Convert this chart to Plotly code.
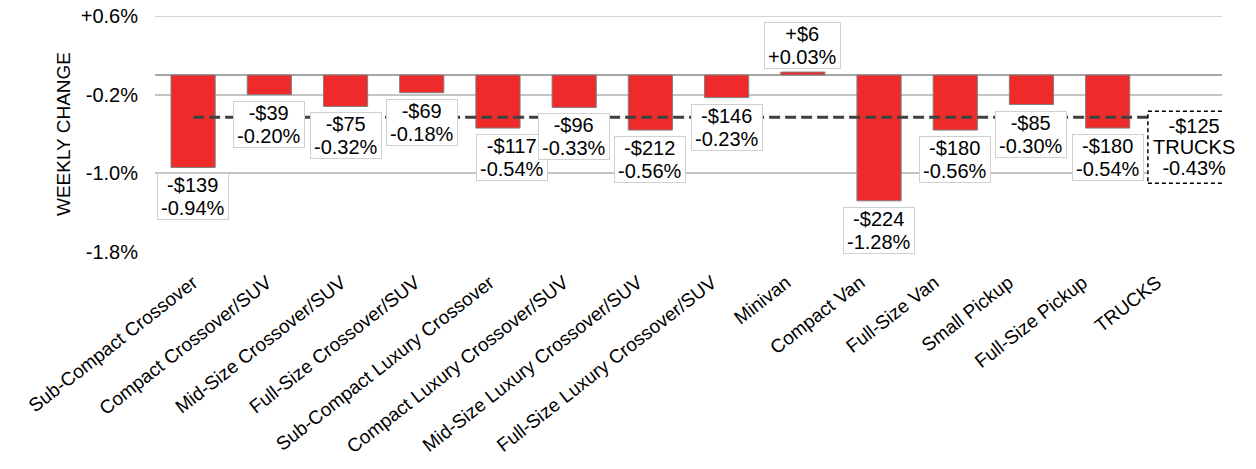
import plotly.graph_objects as go

categories = ["Sub-Compact Crossover", "Compact Crossover/SUV", "Mid-Size Crossover/SUV",
              "Full-Size Crossover/SUV", "Sub-Compact Luxury Crossover", "Compact Luxury Crossover/SUV",
              "Mid-Size Luxury Crossover/SUV", "Full-Size Luxury Crossover/SUV", "Minivan",
              "Compact Van", "Full-Size Van", "Small Pickup", "Full-Size Pickup"]
pct_change = [-0.94, -0.20, -0.32, -0.18, -0.54, -0.33, -0.56, -0.23, 0.03, -1.28, -0.56, -0.30, -0.54]
dollar_change = [-139, -39, -75, -69, -117, -96, -212, -146, 6, -224, -180, -85, -180]
total_label = "TRUCKS"
total_pct = -0.43
total_dollar = -125
y_tickvals = [-1.8, -1.0, -0.2, 0.6]
y_ticktext = ["-1.8%", "-1.0%", "-0.2%", "+0.6%"]

all_cats = categories + [total_label]
FONT = "Liberation Sans, Arial, sans-serif"


def fmt_dollar(v):
    return ("+" if v > 0 else "-") + "$" + str(abs(v))


def fmt_pct(v):
    return ("+" if v > 0 else "-") + "%.2f%%" % abs(v)


def big(s):
    return '<span style="font-size:20px">' + s + '</span>'


fig = go.Figure()
# invisible helper trace on the label axis (x), carrying the category tick labels
fig.add_trace(go.Scatter(
    x=all_cats, y=[None] * len(all_cats), xaxis="x", yaxis="y",
    mode="markers", marker=dict(opacity=0), hoverinfo="skip", showlegend=False,
))
fig.add_trace(go.Bar(
    x=categories, y=pct_change, xaxis="x2", yaxis="y",
    marker=dict(color="#EE2A2A", line=dict(color="#808080", width=1)),
    width=0.58, hoverinfo="skip", showlegend=False,
))
fig.add_trace(go.Scatter(
    x=[categories[0], total_label], y=[total_pct, total_pct], mode="lines",
    xaxis="x2", yaxis="y",
    line=dict(color="#404040", width=3, dash="11px,5px"),
    hoverinfo="skip", showlegend=False,
))

annotations = []
label_xshift = {"Sub-Compact Luxury Crossover": 14}
for cat, p, d in zip(categories, pct_change, dollar_change):
    txt = big(fmt_dollar(d)) + "<br>" + big(fmt_pct(p))
    annotations.append(dict(
        x=cat, y=p, xref="x2", yref="y", text=txt, showarrow=False,
        xanchor="center", yanchor="bottom" if p > 0 else "top",
        yshift=3 if p > 0 else -6, xshift=label_xshift.get(cat, 0),
        font=dict(family=FONT, size=17, color="#000000"),
        bgcolor="#ffffff", bordercolor="#d0d0d0", borderwidth=1, borderpad=3,
        height=39,
    ))

annotations.append(dict(
    x=total_label, y=total_pct, xref="x2", yref="y",
    text=big(fmt_dollar(total_dollar)) + "<br>" + big(total_label) + "<br>" + big(fmt_pct(total_pct)),
    showarrow=False, xanchor="center", yanchor="middle", xshift=10, yshift=-30,
    font=dict(family=FONT, size=16, color="#000000"),
))

L, R, T, B = 155, 34, 16, 217
plot_w = 1256 - L - R

# title placed as text beside the value axis
annotations.append(dict(
    x=(63 - L) / plot_w, xref="paper", y=0.5, yref="paper", text="WEEKLY CHANGE",
    textangle=-90, showarrow=False, xanchor="center", yanchor="middle",
    font=dict(family=FONT, size=19, color="#000000"),
))

fig.add_shape(
    type="line", xref="paper", yref="y", x0=0, x1=1, y0=y_tickvals[-1], y1=y_tickvals[-1],
    line=dict(color="#c4c4c4", width=1.5), layer="below",
)
fig.add_shape(
    type="rect", xref="x2", yref="y", xsizemode="pixel", ysizemode="pixel",
    xanchor=all_cats.index(total_label), yanchor=total_pct,
    x0=-36, x1=56, y0=-66, y1=6,
    line=dict(color="#000000", width=1.5, dash="4px,3px"), fillcolor="#ffffff", layer="above",
)

fig.update_layout(
    width=1256, height=469,
    margin=dict(l=L, r=R, t=T, b=B),
    paper_bgcolor="#ffffff", plot_bgcolor="rgba(0,0,0,0)",
    font=dict(family=FONT, color="#000000"),
    annotations=annotations,
    bargap=0.42,
    showlegend=False,
    xaxis=dict(
        categoryorder="array", categoryarray=all_cats, type="category",
        range=[-0.5, len(all_cats) - 0.5], anchor="y",
        domain=[9 / plot_w, 1047 / plot_w],
        tickangle=-38, tickfont=dict(family=FONT, size=19, color="#000000"),
        ticklabelstandoff=15, ticklabelshift=-8,
        showgrid=False, showline=False, ticks="", zeroline=False, automargin=False,
    ),
    xaxis2=dict(
        categoryorder="array", categoryarray=all_cats, type="category",
        range=[-0.5, len(all_cats) - 0.5], anchor="y", domain=[0, 1],
        showticklabels=False,
        showgrid=False, showline=False, ticks="", zeroline=False, automargin=False,
    ),
    yaxis=dict(
        range=[-1.8, 0.6], tickvals=y_tickvals, ticktext=y_ticktext, anchor="x2",
        tickfont=dict(family=FONT, size=20, color="#000000"),
        showgrid=True, gridcolor="#c4c4c4", gridwidth=1.5,
        zeroline=True, zerolinecolor="#a6a6a6", zerolinewidth=1.5,
        showline=False, ticks="", ticklabelstandoff=16, automargin=False,
        ticklabeloverflow="allow",
    ),
)

fig.write_html("out.html", config={"displayModeBar": False},
               post_script="document.body.style.margin='0';")
